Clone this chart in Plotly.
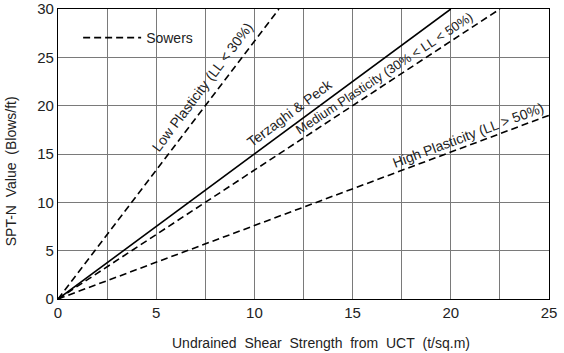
import plotly.graph_objects as go

# Data
low_x = [0, 11.25]
low_y = [0, 30]
tp_x = [0, 20]
tp_y = [0, 30]
med_x = [0, 22.5]
med_y = [0, 30]
high_x = [0, 25]
high_y = [0, 19]

x_ticks = [0, 5, 10, 15, 20, 25]
x_minor = [2.5, 7.5, 12.5, 17.5, 22.5]
y_ticks = [0, 5, 10, 15, 20, 25, 30]

FONT = "Liberation Sans, Arial, sans-serif"
TXT = "#222"
dash = "7px,4px"
NB = "\u00a0\u00a0"

fig = go.Figure()
fig.add_trace(go.Scatter(x=low_x, y=low_y, mode="lines", name="Sowers",
                         line=dict(color="black", width=1.6, dash=dash), showlegend=True))
fig.add_trace(go.Scatter(x=tp_x, y=tp_y, mode="lines", name="Terzaghi & Peck",
                         line=dict(color="black", width=1.6), showlegend=False))
fig.add_trace(go.Scatter(x=med_x, y=med_y, mode="lines", name="Medium",
                         line=dict(color="black", width=1.6, dash=dash), showlegend=False))
fig.add_trace(go.Scatter(x=high_x, y=high_y, mode="lines", name="High",
                         line=dict(color="black", width=1.6, dash=dash), showlegend=False))

annots = [
    dict(x=7.35, y=21.9, text="Low Plasticity (LL < 30%)", textangle=-53.0, size=14),
    dict(x=11.8, y=19.2, text="Terzaghi & Peck", textangle=-36.8, size=14),
    dict(x=16.6, y=23.3, text="Medium Plasticity (30% < LL < 50%)", textangle=-33.5, size=13),
    dict(x=20.9, y=17.0, text="High Plasticity (LL > 50%)", textangle=-20.6, size=14),
]
for a in annots:
    fig.add_annotation(x=a["x"], y=a["y"], text=a["text"], textangle=a["textangle"],
                       showarrow=False, xref="x", yref="y",
                       font=dict(family=FONT, size=a["size"], color=TXT))

# axis titles as annotations for precise placement
fig.add_annotation(x=0.536, y=-0.15, xref="paper", yref="paper", showarrow=False,
                   xanchor="center", yanchor="middle",
                   text=NB.join(["Undrained", "Shear", "Strength", "from", "UCT", "(t/sq.m)"]),
                   font=dict(family=FONT, size=14, color=TXT))
fig.add_annotation(x=-0.094, y=0.44, xref="paper", yref="paper", showarrow=False,
                   xanchor="center", yanchor="middle",
                   text=NB.join(["SPT-N", "Value", "(Blows/ft)"]), textangle=-90,
                   font=dict(family=FONT, size=14, color=TXT))

axis_common = dict(showline=True, linecolor="black", linewidth=1.2, mirror=True,
                   showgrid=True, gridcolor="#7a7a7a", gridwidth=1, zeroline=False,
                   ticks="", ticklabeloverflow="allow",
                   tickfont=dict(family=FONT, size=15, color=TXT))

fig.update_xaxes(range=[0, 25], tickvals=x_ticks,
                 minor=dict(tickvals=x_minor, showgrid=True, gridcolor="#7a7a7a", gridwidth=1),
                 **axis_common)
fig.update_yaxes(range=[0, 30], tickvals=y_ticks, **axis_common)

fig.update_layout(
    width=564, height=353,
    margin=dict(l=58, r=15, t=9, b=54, autoexpand=False),
    plot_bgcolor="white", paper_bgcolor="white",
    legend=dict(x=0.041, y=0.955, xanchor="left", yanchor="top", bgcolor="rgba(0,0,0,0)",
                itemwidth=58,
                font=dict(family=FONT, size=14, color=TXT), borderwidth=0),
    font=dict(family=FONT),
)

fig.write_html("out.html")
